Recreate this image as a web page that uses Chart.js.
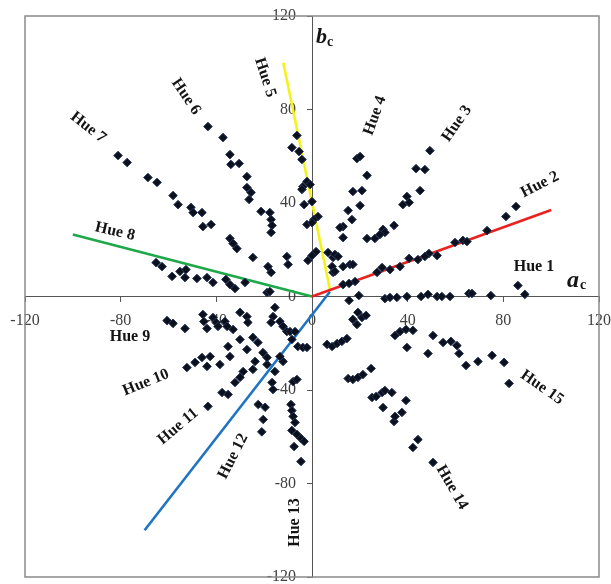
<!DOCTYPE html>
<html>
<head>
<meta charset="utf-8">
<script src="https://cdn.jsdelivr.net/npm/chart.js@4.4.1/dist/chart.umd.min.js"></script>
<style>
   html, body { margin: 0; padding: 0; background: #fff; }
   #wrap { width: 611px; height: 584px; }
</style>
</head>
<body>
<div id="wrap"><canvas id="grafico1"></canvas></div>
<script>
// axis ticks
const tickValues = [-120, -80, -40, 0, 40, 80, 120];

// measured points per hue, [a, b]
const hue1 = [[15.5,-1.7],[19.6,0.4],[30.5,-0.9],[32.6,-0.4],[35.5,-0.4],[39.7,0],[45.6,0],[48.5,0.9],[52.3,0],[54.3,0],[57.7,0],[65.6,1.3],[66.9,1.3],[74.8,0.4],[86.1,4.7],[89.0,0.9]];
const hue2 = [[85.3,38.5],[81.1,34.2],[73.2,28.2],[59.8,23.1],[63.1,24.0],[64.8,23.5],[52.3,17.5],[48.9,18.4],[47.2,17.1],[44.3,15.8],[40.6,16.3],[36.8,12.8],[32.6,11.5],[29.3,12.4],[27.2,10.3],[18.0,6.4],[13.0,5.1],[15.5,5.6]];
const hue3 = [[49.3,62.4],[43.5,54.7],[47.2,54.3],[45.2,45.3],[39.7,42.8],[38.0,39.3],[40.6,40.2],[34.3,30.4],[29.7,28.7],[30.5,27.4],[28.4,26.5],[26.3,24.8],[23.0,24.8],[13.0,12.8],[15.9,13.7],[17.1,13.7],[9.6,18.0],[10.9,17.1],[9.6,10.7]];
const hue4 = [[18.8,59.0],[20.1,59.9],[23.0,51.8],[17.1,44.9],[20.9,45.3],[20.1,38.9],[15.1,36.8],[16.7,32.9],[13.0,29.9],[11.7,29.5],[13.0,25.2],[6.7,18.8],[8.8,16.7],[8.4,12.8],[8.8,10.3]];
const hue5 = [[-6.3,68.9],[-8.4,63.7],[-5.4,62.0],[-4.2,58.6],[-2.1,49.2],[-3.8,47.0],[-4.2,45.8],[-0.8,47.9],[-3.3,39.3],[0,40.6],[2.5,34.2],[0.8,32.9],[-2.1,30.8],[0,31.6],[1.7,19.2],[-1.7,15.4],[0,17.5]];
const hue6 = [[-43.5,72.7],[-37.2,68.0],[-34.3,60.7],[-33.9,56.5],[-30.5,56.9],[-27.2,51.3],[-27.2,46.6],[-25.5,44.5],[-26.3,41.5],[-21.3,36.4],[-17.6,35.9],[-17.1,32.9],[-16.7,30.4],[-17.1,27.4],[-10.5,17.1],[-10.0,13.7]];
const hue7 = [[-81.1,60.3],[-77.3,57.3],[-68.6,50.9],[-64.8,48.8],[-58.1,43.2],[-56.0,39.3],[-50.6,38.1],[-49.7,35.9],[-46.0,35.9],[-45.6,29.9],[-42.2,30.8],[-34.3,24.8],[-33.0,22.7],[-31.4,20.5],[-24.7,16.7],[-18.4,12.8],[-17.1,10.3]];
const hue8 = [[-65.2,14.5],[-62.7,12.8],[-58.5,8.6],[-55.2,10.7],[-52.7,11.5],[-53.1,8.1],[-48.1,7.7],[-43.9,8.1],[-41.4,6.0],[-36.0,7.3],[-34.3,5.1],[-32.2,3.4],[-28.0,6.0],[-18.8,1.7],[-17.6,2.1]];
const hue9 = [[-60.6,-10.3],[-58.1,-11.5],[-53.1,-13.7],[-45.6,-7.7],[-45.2,-10.7],[-43.9,-13.7],[-41.4,-9.0],[-40.1,-11.1],[-39.3,-12.8],[-36.4,-10.7],[-35.5,-12.8],[-30.1,-6.8],[-27.2,-8.6],[-26.8,-11.1]];
const hue10 = [[-52.3,-30.4],[-48.9,-28.2],[-46.0,-26.1],[-43.9,-29.9],[-42.6,-25.7],[-38.5,-29.1],[-35.1,-21.4],[-34.3,-25.7],[-33.0,-14.1],[-30.1,-18.4],[-27.2,-22.7],[-24.7,-17.5],[-22.6,-19.7],[-23.8,-27.8],[-20.5,-24.0],[-18.8,-26.1],[-13.4,-25.7]];
const hue11 = [[-43.5,-47.0],[-37.6,-41.1],[-35.1,-41.9],[-32.2,-36.8],[-30.1,-34.6],[-28.8,-32.1],[-24.7,-31.2],[-18.8,-29.1],[-16.7,-36.8],[-15.5,-32.1],[-16.3,-39.8]];
const hue12 = [[-22.5,-46.2],[-19.6,-47.4],[-20.4,-52.6],[-21.0,-57.9],[-15.5,-4.7],[-16.3,-8.6],[-17.1,-11.1],[-13.4,-10.7],[-12.1,-12.8],[-10.5,-15.0],[-9.2,-15.0],[-7.1,-15.0],[-8.4,-18.4],[-5.9,-21.4],[-3.8,-21.8],[-2.1,-21.8],[-12.1,-27.8]];
const hue13 = [[-7.9,-36.4],[-6.3,-35.5],[-8.8,-46.2],[-8.4,-48.8],[-7.9,-51.3],[-7.1,-53.9],[-8.4,-57.3],[-6.3,-59.0],[-4.6,-60.7],[-3.3,-62.0],[-7.5,-64.2],[-4.6,-70.6]];
const hue14 = [[15.1,-35.1],[17.1,-35.5],[19.2,-34.6],[21.3,-33.4],[24.7,-30.8],[25.1,-43.2],[26.8,-42.8],[29.3,-41.1],[30.5,-40.2],[33.4,-41.1],[29.7,-47.5],[34.3,-53.5],[34.7,-51.3],[37.6,-49.6],[39.3,-44.5],[42.2,-64.6],[44.3,-61.2],[50.6,-71.0],[6.3,-20.5],[8.4,-21.4],[10.5,-20.1],[12.5,-19.2],[14.6,-18.0]];
const hue15 = [[34.7,-16.7],[36.8,-15.0],[39.3,-14.1],[42.2,-14.5],[39.7,-21.8],[50.6,-16.7],[48.5,-24.4],[54.8,-19.7],[58.1,-19.2],[60.6,-21.0],[61.5,-24.4],[64.4,-29.5],[69.4,-27.8],[75.3,-25.2],[80.3,-28.2],[82.4,-37.2],[17.1,-9.8],[18.8,-12.0],[20.9,-9.0],[22.6,-8.1],[19.2,-6.8]];

const allHues = [hue1, hue2, hue3, hue4, hue5, hue6, hue7, hue8, hue9, hue10, hue11, hue12, hue13, hue14, hue15];

// reference lines (start, end)
const redLine = [[0, 0], [100, 37]];
const yellowLine = [[7.5, 3], [-12, 100]];
const greenLine = [[-100, 26.5], [0, 0]];
const blueLine = [[7.5, 2], [-70, -100]];

// hue labels: text, anchor a, anchor b, angle (deg)
const hueNames = ['Hue 1','Hue 2','Hue 3','Hue 4','Hue 5','Hue 6','Hue 7','Hue 8','Hue 9','Hue 10','Hue 11','Hue 12','Hue 13','Hue 14','Hue 15'];
const nameA = [92.8, 95.3, 60.6, 26.3, -19.6, -52.7, -93.6, -82.4, -76.1, -69.4, -56.0, -33.0, -7.1, 58.5, 96.2];
const nameB = [12.8, 47.9, 74.0, 77.4, 93.7, 85.5, 72.3, 27.8, -17.1, -36.8, -55.6, -68.4, -96.7, -81.7, -38.9];
const nameAngle = [0, -27, -55, -70, 72, 56, 38, 13, 0, -22, -40, -63, -90, 60, 35];

const toXY = arr => arr.map(p => ({ x: p[0], y: p[1] }));

const pontos = allHues.map((h, i) => ({
   label: hueNames[i],
   data: toXY(h),
   pointStyle: 'rectRot',
   pointRadius: 4.3,
   backgroundColor: '#0c0f1c',
   borderColor: '#24365a',
   borderWidth: 1,
   showLine: false
}));

function linha(pts, cor) {
   return {
      data: toXY(pts),
      showLine: true,
      borderColor: cor,
      borderWidth: 2.6,
      pointRadius: 0,
      fill: false
   };
}

const extras = {
   id: 'extras',
   beforeDatasetsDraw(chart) {
      const { ctx, chartArea: a } = chart;
      ctx.save();
      ctx.strokeStyle = '#8a8a8a';
      ctx.lineWidth = 1.5;
      ctx.strokeRect(a.left, a.top, a.right - a.left, a.bottom - a.top);
      ctx.restore();
   },
   afterDraw(chart) {
      const { ctx, scales: { x, y } } = chart;
      ctx.save();
      ctx.fillStyle = '#141414';
      ctx.textAlign = 'center';
      ctx.textBaseline = 'middle';
      ctx.font = 'bold 16px "Liberation Serif"';
      hueNames.forEach((t, i) => {
         ctx.save();
         ctx.translate(x.getPixelForValue(nameA[i]), y.getPixelForValue(nameB[i]));
         ctx.rotate(nameAngle[i] * Math.PI / 180);
         ctx.fillText(t, 0, 0);
         ctx.restore();
      });
      // axis titles
      ctx.textAlign = 'left';
      ctx.textBaseline = 'alphabetic';
      const bx = x.getPixelForValue(0) + 4, by = y.getPixelForValue(120) + 27;
      ctx.font = 'italic bold 22px "Liberation Serif"';
      ctx.fillText('b', bx, by);
      ctx.font = 'bold 14px "Liberation Serif"';
      ctx.fillText('c', bx + 11, by + 3);
      const ax = x.getPixelForValue(120) - 32, ay = y.getPixelForValue(0) - 10;
      ctx.font = 'italic bold 24px "Liberation Serif"';
      ctx.fillText('a', ax, ay);
      ctx.font = 'bold 14px "Liberation Serif"';
      ctx.fillText('c', ax + 13, ay + 2);
      ctx.restore();
   }
};

function eixo(extra) {
   return {
      type: 'linear',
      min: -120,
      max: 120,
      afterBuildTicks: s => { s.ticks = tickValues.map(v => ({ value: v })); },
      // labels may run past the frame, as in the original, so no extra room
      afterFit: s => { s.paddingLeft = s.paddingRight = s.paddingTop = s.paddingBottom = 0; },
      ticks: Object.assign({
         color: '#404040',
         font: { family: '"Liberation Serif"', size: 16 },
         padding: 10,
         autoSkip: false,
         maxRotation: 0
      }, extra),
      grid: { drawOnChartArea: false, drawTicks: true, tickLength: 5, color: '#555' },
      border: { display: true, color: '#555', width: 1 }
   };
}

const grafico1 = document.getElementById('grafico1').getContext('2d');
const chart1 = new Chart(grafico1, {
   type: 'scatter',
   data: {
      datasets: pontos.concat([
         linha(redLine, '#e8231f'),
         linha(yellowLine, '#f4f21c'),
         linha(greenLine, '#1fa84a'),
         linha(blueLine, '#1f74c2')
      ])
   },
   options: {
      responsive: true,
      maintainAspectRatio: false,
      animation: false,
      layout: { autoPadding: false, padding: { left: 25, top: 16, right: 12, bottom: 7 } },
      plugins: { legend: { display: false }, tooltip: { enabled: false } },
      scales: {
         x: Object.assign(eixo({}), { position: { y: 0 } }),
         // centred y axis puts labels flush on the line, so pad with an em space
         y: Object.assign(eixo({ callback: v => v + '\u2003' }), { position: { x: 0 } })
      }
   },
   plugins: [extras]
});
</script>
</body>
</html>
